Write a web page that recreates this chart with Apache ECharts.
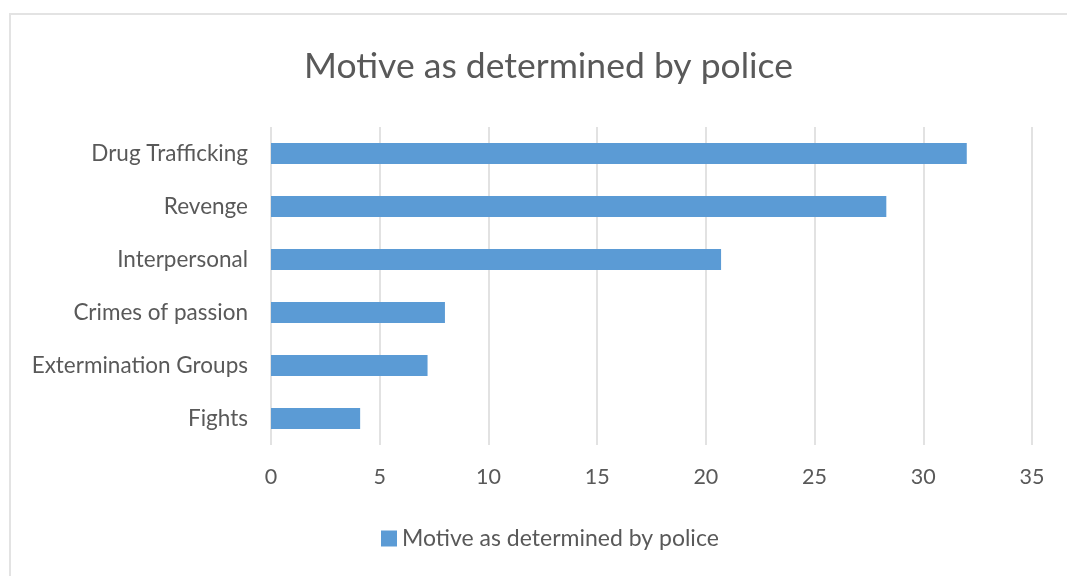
<!DOCTYPE html>
<html>
<head>
<meta charset="utf-8">
<script src="https://cdn.jsdelivr.net/npm/echarts@6/dist/echarts.min.js"></script>
<style>
  html, body { margin: 0; padding: 0; background: #fff; }
  #frame { position: absolute; left: 9px; top: 13px; width: 1100px; height: 600px;
           border: 2px solid #e3e3e3; box-sizing: border-box; }
  #chart { position: absolute; left: 0; top: 0; width: 1067px; height: 576px; }
</style>
</head>
<body>
<div id="frame"></div>
<div id="chart"></div>
<script>
// Motives, listed bottom to top as the category axis draws them
const categories = ['Fights', 'Extermination Groups', 'Crimes of passion', 'Interpersonal', 'Revenge', 'Drug Trafficking'];
const values = [4.1, 7.2, 8.0, 20.7, 28.3, 32.0];
const seriesName = 'Motive as determined by police';
const xTicks = { min: 0, max: 35, interval: 5 };

const textColor = '#595959';
const font = 'Lato, sans-serif';

const chart = echarts.init(document.getElementById('chart'), null, { renderer: 'canvas' });
chart.setOption({
  animation: false,
  title: {
    text: seriesName,
    left: 299, top: 44,
    textStyle: { color: textColor, fontSize: 35.5, fontWeight: 'normal', fontFamily: font }
  },
  legend: {
    data: [seriesName],
    left: 376, top: 522,
    itemWidth: 16, itemHeight: 16, itemGap: 6,
    icon: 'rect',
    textStyle: { color: textColor, fontSize: 23, fontFamily: font }
  },
  grid: { left: 271, right: 35, top: 127, bottom: 131, containLabel: false },
  xAxis: {
    type: 'value',
    min: xTicks.min, max: xTicks.max, interval: xTicks.interval,
    axisLine: { show: false },
    axisTick: { show: false },
    splitLine: { show: true, lineStyle: { color: '#d9d9d9', width: 1.5 } },
    axisLabel: { color: textColor, fontSize: 21.5, fontFamily: font, margin: 21 }
  },
  yAxis: {
    type: 'category',
    data: categories,
    axisLine: { show: false },
    axisTick: { show: false },
    axisLabel: { color: textColor, fontSize: 22.5, fontFamily: font, margin: 23 }
  },
  series: [{
    name: seriesName,
    type: 'bar',
    data: values,
    barWidth: '40%',
    itemStyle: { color: '#5b9bd5' }
  }]
});
</script>
</body>
</html>
